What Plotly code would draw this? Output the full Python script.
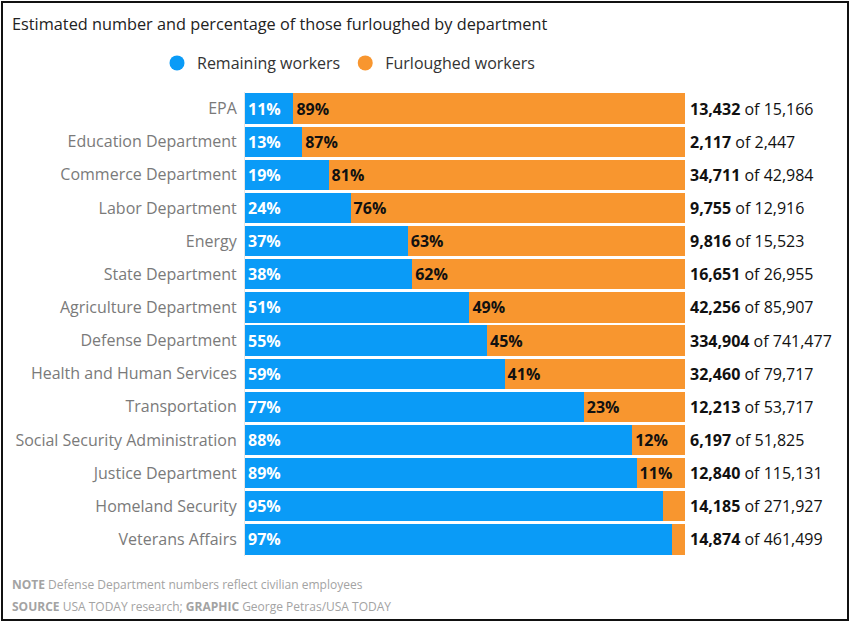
import plotly.graph_objects as go

departments = [
    "EPA", "Education Department", "Commerce Department", "Labor Department",
    "Energy", "State Department", "Agriculture Department", "Defense Department",
    "Health and Human Services", "Transportation", "Social Security Administration",
    "Justice Department", "Homeland Security", "Veterans Affairs",
]
remaining_pct = [11, 13, 19, 24, 37, 38, 51, 55, 59, 77, 88, 89, 95, 97]
furloughed_pct = [89, 87, 81, 76, 63, 62, 49, 45, 41, 23, 12, 11, 5, 3]
furloughed_num = ["13,432", "2,117", "34,711", "9,755", "9,816", "16,651", "42,256",
                  "334,904", "32,460", "12,213", "6,197", "12,840", "14,185", "14,874"]
total_num = ["15,166", "2,447", "42,984", "12,916", "15,523", "26,955", "85,907",
             "741,477", "79,717", "53,717", "51,825", "115,131", "271,927", "461,499"]

BLUE = "#0A9BF7"
ORANGE = "#F8962F"
FONT = "Open Sans"

W, H = 850, 631
L, R, T, B = 245, 165, 92, 75
PW, PH = W - L - R, H - T - B


def px_x(x):
    return (x - L) / PW


def px_y(y):
    return (H - B - y) / PH


fig = go.Figure()
fig.add_trace(go.Bar(
    y=departments, x=remaining_pct, orientation="h", marker_color=BLUE,
    marker_line_width=0, showlegend=False,
    text=[f"<b>{v}%</b>" for v in remaining_pct], textposition="inside",
    insidetextanchor="start", textfont=dict(color="white", size=16, family=FONT),
    hoverinfo="skip",
))
fig.add_trace(go.Bar(
    y=departments, x=furloughed_pct, orientation="h", marker_color=ORANGE,
    marker_line_width=0, showlegend=False,
    text=[f"<b>{v}%</b>" if v >= 10 else "" for v in furloughed_pct], textposition="inside",
    insidetextanchor="start", textfont=dict(color="#111111", size=16, family=FONT),
    hoverinfo="skip",
))
fig.add_trace(go.Scatter(x=[None], y=[None], mode="markers", name="Remaining workers",
                         marker=dict(color=BLUE, size=15, symbol="circle")))
fig.add_trace(go.Scatter(x=[None], y=[None], mode="markers", name="Furloughed workers",
                         marker=dict(color=ORANGE, size=15, symbol="circle")))

for d, f, t in zip(departments, furloughed_num, total_num):
    fig.add_annotation(x=1, xref="paper", y=d, yref="y", xanchor="left", xshift=3,
                       text=f"<b>{f}</b> of {t}", showarrow=False,
                       font=dict(size=16, color="#111111", family=FONT))

fig.add_annotation(x=px_x(10), xref="paper", y=px_y(584), yref="paper",
                   text="<b>NOTE</b> Defense Department numbers reflect civilian employees",
                   showarrow=False, xanchor="left", yanchor="middle",
                   font=dict(size=12, color="#a3a3a3", family=FONT))
fig.add_annotation(x=px_x(10), xref="paper", y=px_y(606), yref="paper",
                   text="<b>SOURCE</b> USA TODAY research; <b>GRAPHIC</b> George Petras/USA TODAY",
                   showarrow=False, xanchor="left", yanchor="middle",
                   font=dict(size=12, color="#a3a3a3", family=FONT))

fig.update_layout(
    width=W, height=H,
    margin=dict(l=L, r=R, t=T, b=B),
    paper_bgcolor="white", plot_bgcolor="white",
    barmode="stack", bargap=0.09,
    font=dict(family=FONT),
    title=dict(text="Estimated number and percentage of those furloughed by department",
               x=12 / W, xref="container", xanchor="left",
               y=1 - 24 / H, yref="container", yanchor="middle",
               font=dict(size=16.3, color="#222222", family=FONT)),
    legend=dict(orientation="h", x=157 / W, xref="container", xanchor="left",
                y=1 - 63 / H, yref="container", yanchor="middle",
                font=dict(size=16, color="#333333", family=FONT),
                itemwidth=30, traceorder="normal"),
    xaxis=dict(range=[0, 100], visible=False, fixedrange=True),
    yaxis=dict(autorange="reversed", showline=True, linecolor="#e6e6e6", linewidth=1,
               ticks="", showgrid=False, ticklabelstandoff=4, fixedrange=True,
               tickfont=dict(size=16, color="#7a7a7a", family=FONT)),
    shapes=[dict(type="rect", xref="paper", yref="paper",
                 x0=px_x(2), x1=px_x(848), y0=px_y(620), y1=px_y(2),
                 line=dict(color="#111111", width=2), fillcolor="rgba(0,0,0,0)")],
)

fig.write_html("out.html", config={"displayModeBar": False},
               post_script="document.body.style.margin='0';")
